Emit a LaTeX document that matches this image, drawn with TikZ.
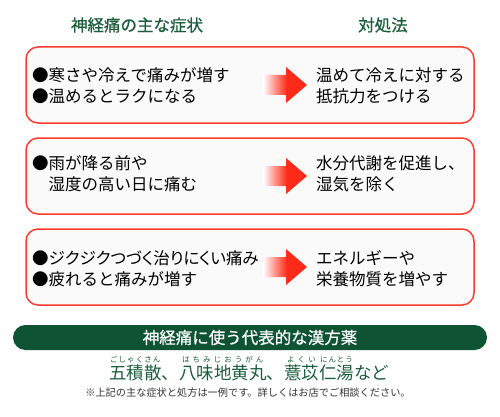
\documentclass[tikz,border=0pt]{standalone}
\usepackage{fontspec}
\setmainfont{Noto Sans CJK JP}
\newfontfamily\paltfont[RawFeature=+palt]{Noto Sans CJK JP}
\newfontfamily\medfont[FakeBold=0.7]{Noto Sans CJK JP}
\usetikzlibrary{shapes.misc}
\definecolor{boxred}{HTML}{FF3B2E}
\definecolor{arrred}{HTML}{FF2A1A}
\definecolor{dgreen}{HTML}{1C5E3C}
\definecolor{bargreen}{HTML}{0E5434}
\definecolor{notegray}{HTML}{333333}
\pgfdeclarehorizontalshading{arrowshade}{100bp}{color(0bp)=(white); color(25bp)=(white); color(52bp)=(arrred); color(100bp)=(arrred)}
\newcommand\rb[2]{\setbox0\hbox{#1}\rlap{\raisebox{0.92em}{\hbox to \wd0{\fontsize{7.5}{8}\selectfont #2}}}\box0}
\tikzset{
  panel/.style={draw=boxred, line width=1.5pt, fill=white!98!black, rounded corners=12pt},
  body/.style={inner sep=0pt, align=left, font={\fontsize{16.5}{21}\selectfont}, text=black},
  header/.style={inner sep=0pt, font={\medfont\fontsize{16.5}{20}\selectfont}, text=dgreen},
  bigarrow/.style={shading=arrowshade},
}
\begin{document}
\begin{tikzpicture}[x=1pt,y=-1pt]
\useasboundingbox (0,0) rectangle (500,417);
\fill[white] (0,0) rectangle (500,417);
% headers
\node[header] (h1) at (137,25) {神経痛の主な症状};
\node[header] (h2) at (383,25) {対処法};
% panels
\foreach \n/\t/\b in {1/47/123, 2/138/214, 3/229/305}{
  \path[panel] (26,\t) rectangle (474,\b);
}
\foreach \c in {85,176,267}{
  \shade[bigarrow] (263,\c-10) -- (286,\c-10) -- (286,\c-18) -- (307,\c) -- (286,\c+18) -- (286,\c+10) -- (263,\c+10) -- cycle;
}
% texts
\node[body, anchor=west] (l1) at (32,85.5) {●寒さや冷えで痛みが増す\\●温めるとラクになる};
\node[body, anchor=west] (r1) at (316,85.5) {温めて冷えに対する\\抵抗力をつける};
\node[body, anchor=west] (l2) at (32,174) {●雨が降る前や\\\phantom{●}湿度の高い日に痛む};
\node[body, anchor=west] (r2) at (316,174) {水分代謝を促進し、\\湿気を除く};
\node[body, anchor=west] (l3) at (32,269) {{\paltfont ●ジクジクつづく治りにくい痛み}\\●疲れると痛みが増す};
\node[body, anchor=west] (r3) at (316,269) {エネルギーや\\栄養物質を増やす};
% green bar
\node[rounded rectangle, fill=bargreen, minimum width=474pt, minimum height=25pt, inner sep=0pt] (bar) at (250,337.5) {};
\node[inner sep=0pt, text=white, font={\medfont\fontsize{16.5}{20}\selectfont}] (bartext) at (250,337.5) {神経痛に使う代表的な漢方薬};
% kanpo
\node[inner sep=0pt, text=dgreen, font={\fontsize{17.5}{20}\selectfont}, anchor=base] (kanpo) at (249,379) {\rb{五積散}{\hfil ご\hfil し\hfil ゃ\hfil く\hfil さ\hfil ん\hfil}、\rb{八味地黄丸}{\hfil は\hfil ち\hfil み\hfil じ\hfil お\hfil う\hfil が\hfil ん\hfil}、\rb{薏苡}{\hfil よ\hfil く\hfil い\hfil}\rb{仁湯}{\hfil に\hfil ん\hfil と\hfil う\hfil}など};
\node[inner sep=0pt, text=notegray, font={\fontsize{10.2}{12}\selectfont}] (note) at (248,393) {※上記の主な症状と処方は一例です。詳しくはお店でご相談ください。};
\end{tikzpicture}
\end{document}
